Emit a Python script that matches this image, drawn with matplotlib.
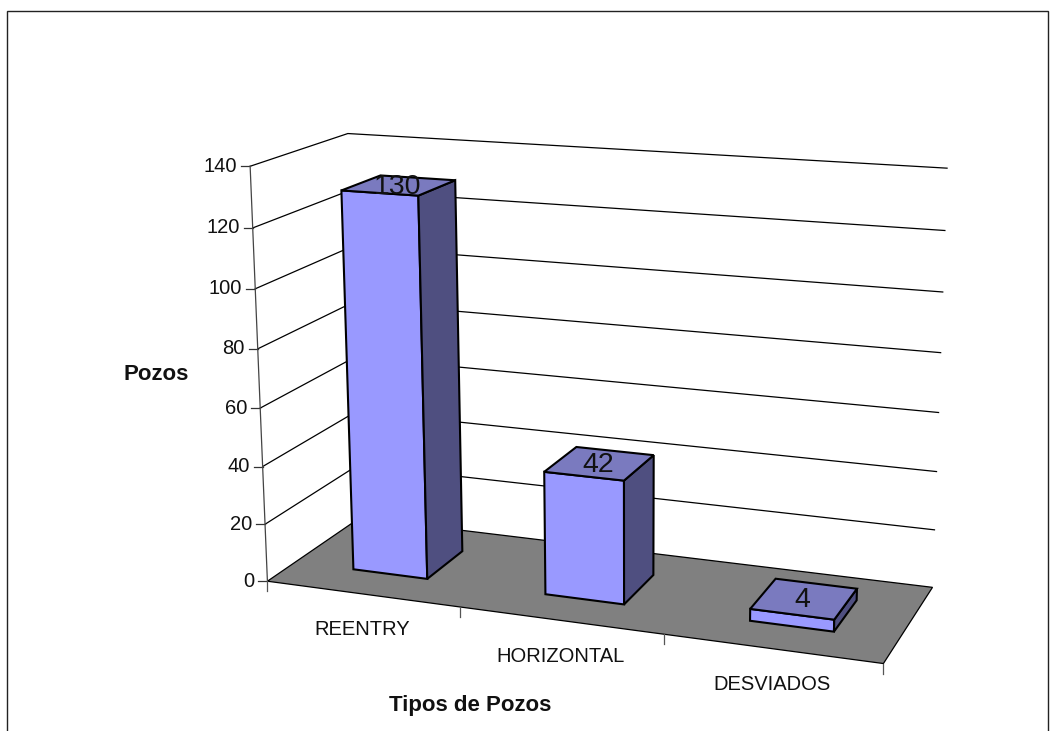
import numpy as np
import matplotlib
matplotlib.use("Agg")
import matplotlib.pyplot as plt
from matplotlib.patches import Polygon, Rectangle

categories = ["REENTRY", "HORIZONTAL", "DESVIADOS"]
values = [130, 42, 4]
y_ticks = [0, 20, 40, 60, 80, 100, 120, 140]
y_title = "Pozos"
x_title = "Tipos de Pozos"

Y_MAX = y_ticks[-1]
BAR_L, BAR_R = 0.313, 0.705   # bar edges within a category
GAP_D = 0.29   # front gap as fraction of the depth
BAR_D = 0.42   # bar depth as fraction of the depth
COL_FRONT, COL_TOP, COL_SIDE, COL_FLOOR = "#9999FF", "#7A7ABF", "#4F4F80", "#808080"
FONT = "Liberation Sans"

# Camera calibration: plot box corners (across, depth, height) -> figure pixels
box = [((0, 0, 0), (267, 581)), ((1, 0, 0), (884, 663)), ((1, 1, 0), (932, 588)),
       ((0, 1, 0), (360, 518)), ((0, 0, 1), (250, 167)), ((0, 1, 1), (348, 133)),
       ((1, 1, 1), (947, 168))]
rows = []
for (a, b, c), (x, y) in box:
    rows.append([a, b, c, 1, 0, 0, 0, 0, -x*a, -x*b, -x*c, -x])
    rows.append([0, 0, 0, 0, a, b, c, 1, -y*a, -y*b, -y*c, -y])
P = np.linalg.svd(np.array(rows, float))[2][-1].reshape(3, 4)

def proj(cat, depth, val):
    """cat in category units, depth in 0-1, val in data units."""
    p = P @ np.array([cat / len(categories), depth, val / Y_MAX, 1.0])
    return p[0] / p[2], p[1] / p[2]

fig = plt.figure(figsize=(10.59, 7.31), dpi=100)
ax = fig.add_axes([0, 0, 1, 1])
ax.set_xlim(0, 1059)
ax.set_ylim(731, 0)
ax.axis("off")

ax.add_patch(Rectangle((7, 11), 1041, 800, fc="white", ec="#222222", lw=1.0, zorder=0))

n = len(categories)
# floor
ax.add_patch(Polygon([proj(0, 0, 0), proj(n, 0, 0), proj(n, 1, 0), proj(0, 1, 0)],
                     fc=COL_FLOOR, ec="black", lw=0.9, zorder=1))
# gridlines and walls
for t in y_ticks:
    pts = [proj(0, 0, t), proj(0, 1, t), proj(n, 1, t)]
    if t > 0:
        ax.plot(*zip(*pts), color="black", lw=0.9, zorder=1)
    x0, y0 = proj(0, 0, t)
    ax.plot([x0 - 9, x0], [y0, y0], color="#333333", lw=0.9, zorder=1)
    ax.text(x0 - 13, y0, str(t), ha="right", va="center", family=FONT, fontsize=14.5, color="#111111")
ax.plot(*zip(proj(0, 0, 0), proj(0, 0, Y_MAX)), color="#444444", lw=0.9, zorder=1)

# category ticks and labels
for i in range(n + 1):
    x0, y0 = proj(i, 0, 0)
    ax.plot([x0, x0], [y0, y0 + 10], color="#555555", lw=0.9, zorder=1)
for i, name in enumerate(categories):
    x0, y0 = proj(i + 0.5, 0, 0)
    ax.text(x0, y0 + 36, name, ha="center", va="center", family=FONT, fontsize=14.5, color="#111111")

# bars
for i, v in enumerate(values):
    l, r = i + BAR_L, i + BAR_R
    f, b = GAP_D, GAP_D + BAR_D
    front = [proj(l, f, 0), proj(r, f, 0), proj(r, f, v), proj(l, f, v)]
    top = [proj(l, f, v), proj(r, f, v), proj(r, b, v), proj(l, b, v)]
    side = [proj(r, f, 0), proj(r, b, 0), proj(r, b, v), proj(r, f, v)]
    for pts, col in ((front, COL_FRONT), (side, COL_SIDE), (top, COL_TOP)):
        ax.add_patch(Polygon(pts, fc=col, ec="black", lw=1.5, joinstyle="miter", zorder=2 + i))
    tx, ty = proj(i + 0.5, f + BAR_D / 2, v)
    ax.text(tx, ty + 1.5, str(v), ha="center", va="center", family=FONT, fontsize=20.5, color="#111111", zorder=10)

ax.text(156, 375, y_title, ha="center", va="center", family=FONT, fontweight="bold", fontsize=16, color="#111111")
ax.text(470, 705, x_title, ha="center", va="center", family=FONT, fontweight="bold", fontsize=16, color="#111111")

fig.savefig("out.png", dpi=100)
